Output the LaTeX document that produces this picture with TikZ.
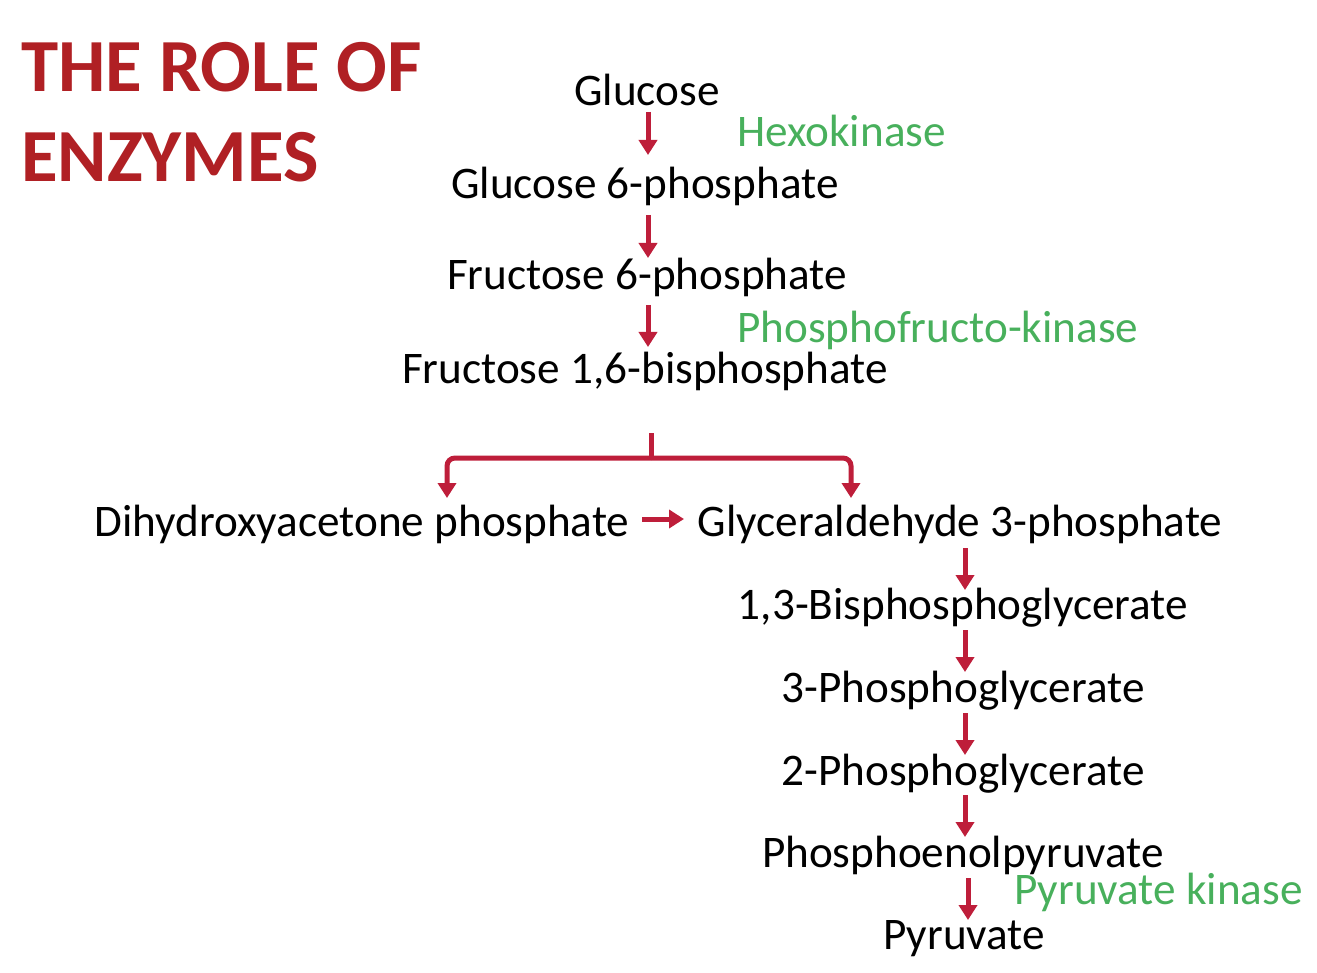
\documentclass[tikz,border=0pt]{standalone}
\usepackage{fontspec}
\setmainfont{Carlito}
\usetikzlibrary{arrows.meta}
\definecolor{titlered}{RGB}{176,32,36}
\definecolor{arrred}{RGB}{190,30,58}
\definecolor{enzgreen}{RGB}{72,176,92}
\tikzset{
  met/.style={anchor=base, inner sep=0pt, font=\fontsize{45.2}{54}\selectfont, text=black},
  enz/.style={anchor=base west, inner sep=0pt, font=\fontsize{45.2}{54}\selectfont, text=enzgreen},
  ttl/.style={anchor=base west, inner sep=0pt, font=\fontsize{75}{90}\selectfont\bfseries, text=titlered},
  arr/.style={draw=arrred, line width=5pt, -{Triangle[width=18pt,length=15pt]}},
  brc/.style={draw=arrred, line width=5pt, rounded corners=8pt, -{Triangle[width=18pt,length=15pt]}}
}
\begin{document}
\begin{tikzpicture}[x=1pt,y=-1pt]
\useasboundingbox (0,0) rectangle (1317,973);
% title
\node[ttl] (t1) at (21,92) {THE ROLE OF};
\node[ttl] (t2) at (21,182) {ENZYMES};
% metabolites
\node[met] (glc) at (647,106) {Glucose};
\node[met] (g6p) at (645,199) {Glucose 6-phosphate};
\node[met] (f6p) at (647,290) {Fructose 6-phosphate};
\node[met] (fbp) at (645,384) {Fructose 1,6-bisphosphate};
\node[met] (dhap) at (362,536) {Dihydroxyacetone phosphate};
\node[met] (gap) at (960,536) {Glyceraldehyde 3-phosphate};
\node[met] (bpg) at (963,619) {1,3-Bisphosphoglycerate};
\node[met] (pg3) at (963,702) {3-Phosphoglycerate};
\node[met] (pg2) at (963,785) {2-Phosphoglycerate};
\node[met] (pep) at (963,867) {Phosphoenolpyruvate};
\node[met] (pyr) at (964,949) {Pyruvate};
% enzymes
\node[enz] (hk) at (737,147) {Hexokinase};
\node[enz] (pfk) at (737,343) {Phosphofructo-kinase};
\node[enz] (pk) at (1014,904) {Pyruvate kinase};
% arrow end points
\coordinate (a1s) at (648,112); \coordinate (a1e) at (648,155);
\coordinate (a2s) at (648,215); \coordinate (a2e) at (648,258);
\coordinate (a3s) at (648,305); \coordinate (a3e) at (648,347);
\coordinate (bs) at (651,433); \coordinate (bj) at (651,458);
\coordinate (bl) at (447,498); \coordinate (br) at (851,498);
\coordinate (hs) at (642,519); \coordinate (he) at (684,519);
\coordinate (a6s) at (965,548); \coordinate (a6e) at (965,590);
\coordinate (a7s) at (965,630); \coordinate (a7e) at (965,672);
\coordinate (a8s) at (965,713); \coordinate (a8e) at (965,755);
\coordinate (a9s) at (965,795); \coordinate (a9e) at (965,837);
\coordinate (a10s) at (968,878); \coordinate (a10e) at (968,920);
% arrows
\draw[arr] (a1s) -- (a1e);
\draw[arr] (a2s) -- (a2e);
\draw[arr] (a3s) -- (a3e);
\draw[draw=arrred, line width=5pt] (bs) -- (bj);
\draw[brc] (bj) -| (bl);
\draw[brc] (bj) -| (br);
\draw[arr] (hs) -- (he);
\draw[arr] (a6s) -- (a6e);
\draw[arr] (a7s) -- (a7e);
\draw[arr] (a8s) -- (a8e);
\draw[arr] (a9s) -- (a9e);
\draw[arr] (a10s) -- (a10e);
\end{tikzpicture}
\end{document}
